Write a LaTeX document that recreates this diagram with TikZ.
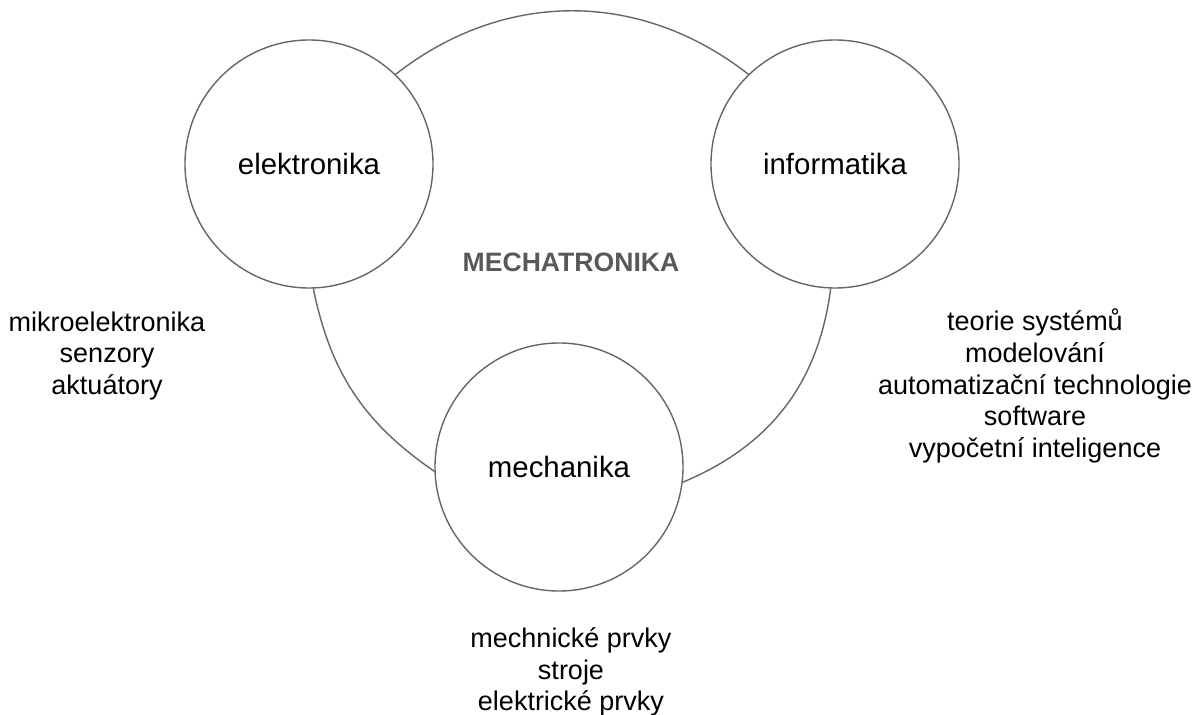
\documentclass[tikz,border=0pt]{standalone}
\usepackage{fontspec}
\setmainfont{Liberation Sans}

\begin{document}
\begin{tikzpicture}[
    x=0.5pt,y=-0.5pt,
    field/.style={circle,draw=black!60,line width=0.7pt,minimum size=124pt,inner sep=0pt,
        font=\fontsize{14.7}{17}\selectfont},
    items/.style={align=center,font=\fontsize{13.5}{15.9}\selectfont},
    link/.style={draw=black!60,line width=0.7pt}
]

\useasboundingbox (0,0) rectangle (1204,715);

\node[field] (elek) at (309,164) {elektronika};
\node[field] (info) at (835,164) {informatika};
\node[field] (mech) at (559,467) {mechanika};

\node[font=\bfseries\fontsize{13.3}{16}\selectfont,text=black!65] (mecha) at (571,262) {MECHATRONIKA};

\draw[link] (elek.46) to[bend left=38] (info.134);
\draw[link] (elek.272) to[bend right=22] (mech.182.5);
\draw[link] (info.268) to[bend left=30] (mech.-7.6);

\node[items] (elekitems) at (107,356) {mikroelektronika\\senzory\\aktuátory};
\node[items] (infoitems) at (1035,386) {teorie systémů\\modelování\\automatizační technologie\\software\\vypočetní inteligence};
\node[items] (mechitems) at (571,672) {mechnické prvky\\stroje\\elektrické prvky};

\end{tikzpicture}
\end{document}
